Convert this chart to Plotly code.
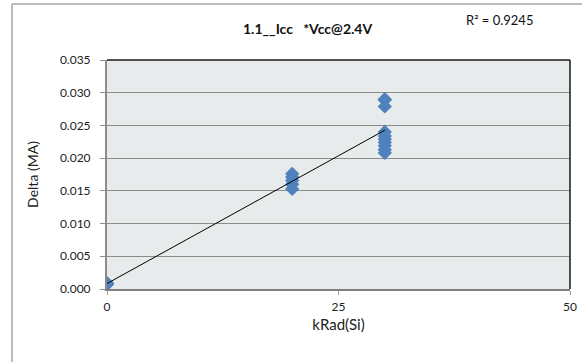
import numpy as np
import plotly.graph_objects as go

# Icc delta measurements vs total dose
dose_krad = [0, 0, 0,
             20, 20, 20, 20, 20,
             30, 30, 30, 30, 30, 30, 30, 30, 30, 30]
delta_ma = [0.0008, 0.0007, 0.0009,
            0.0176, 0.0171, 0.0166, 0.0160, 0.0153,
            0.0290, 0.0289, 0.0279, 0.0240, 0.0234, 0.0229, 0.0224, 0.0219,
            0.0213, 0.0208]

x_ticks = [0, 25, 50]
y_ticks = [0.000, 0.005, 0.010, 0.015, 0.020, 0.025, 0.030, 0.035]
y_tick_text = ["%.3f" % v for v in y_ticks]

title_text = "<b>1.1__Icc\u00a0\u00a0\u00a0*Vcc@2.4V</b>"
r2_text = "R² = 0.9245"

FONT = "Lato, Open Sans, sans-serif"
W, H = 582, 362

# Linear trendline over the data range
slope, intercept = np.polyfit(dose_krad, delta_ma, 1)
fit_x = [min(dose_krad), max(dose_krad)]
fit_y = [slope * v + intercept for v in fit_x]

fig = go.Figure()
fig.add_trace(go.Scatter(
    x=dose_krad, y=delta_ma, mode="markers",
    marker=dict(symbol="diamond", size=11, color="#4F81BD",
                line=dict(width=0)),
    showlegend=False, hoverinfo="x+y",
))
fig.add_trace(go.Scatter(
    x=fit_x, y=fit_y, mode="lines",
    line=dict(color="black", width=1),
    showlegend=False, hoverinfo="skip",
))

# pixel -> paper helpers (paper spans the whole page)
def px_x(p):
    return p / W

def px_y(p):
    return 1 - p / H

fig.update_layout(
    width=W, height=H,
    margin=dict(l=0, r=0, t=0, b=0),
    paper_bgcolor="white",
    plot_bgcolor="#E7EBEB",
    font=dict(family=FONT, size=12, color="#222222"),
    xaxis=dict(
        domain=[px_x(107), px_x(570)], automargin=False,
        range=[0, 50], tickvals=x_ticks, ticktext=[str(v) for v in x_ticks],
        showgrid=False, zeroline=False,
        showline=True, linecolor="#7F7F7F", linewidth=2,
        ticks="outside", ticklen=4, tickcolor="#A0A0A0",
        ticklabelstandoff=2,
        title=dict(text="kRad(Si)", font=dict(size=15), standoff=6),
        tickfont=dict(size=12),
    ),
    yaxis=dict(
        domain=[px_y(289), px_y(60)], automargin=False,
        range=[0, 0.035], tickvals=y_ticks, ticktext=y_tick_text,
        showgrid=True, gridcolor="#8C8C8C", gridwidth=1,
        zeroline=False,
        showline=True, linecolor="#8C8C8C", linewidth=2,
        ticks="outside", ticklen=5, tickcolor="#8C8C8C",
        ticklabelstandoff=7,
        title=dict(text="Delta (MA)", font=dict(size=14), standoff=18),
        tickfont=dict(size=12),
    ),
    shapes=[
        # plot-area frame (top and right edges)
        dict(type="line", xref="paper", yref="paper",
             x0=px_x(107), x1=px_x(570), y0=px_y(60), y1=px_y(60),
             line=dict(color="#1A1A1A", width=1.5)),
        dict(type="line", xref="paper", yref="paper",
             x0=px_x(570), x1=px_x(570), y0=px_y(289), y1=px_y(60),
             line=dict(color="#1A1A1A", width=1.5)),
        # chart outer border (left and top edges)
        dict(type="line", xref="paper", yref="paper",
             x0=px_x(12), x1=px_x(12), y0=0, y1=px_y(4),
             line=dict(color="#A6A6A6", width=1.5)),
        dict(type="line", xref="paper", yref="paper",
             x0=px_x(12), x1=1, y0=px_y(4), y1=px_y(4),
             line=dict(color="#A6A6A6", width=1.5)),
    ],
    annotations=[
        dict(text=title_text, xref="paper", yref="paper",
             x=px_x(307), y=px_y(29),
             xanchor="center", yanchor="middle", showarrow=False,
             font=dict(size=14, color="#111111")),
        dict(text=r2_text, xref="paper", yref="paper",
             x=px_x(500), y=px_y(20),
             xanchor="center", yanchor="middle", showarrow=False,
             font=dict(size=13, color="#111111")),
    ],
)

fig.write_html("out.html", config={"displayModeBar": False})
